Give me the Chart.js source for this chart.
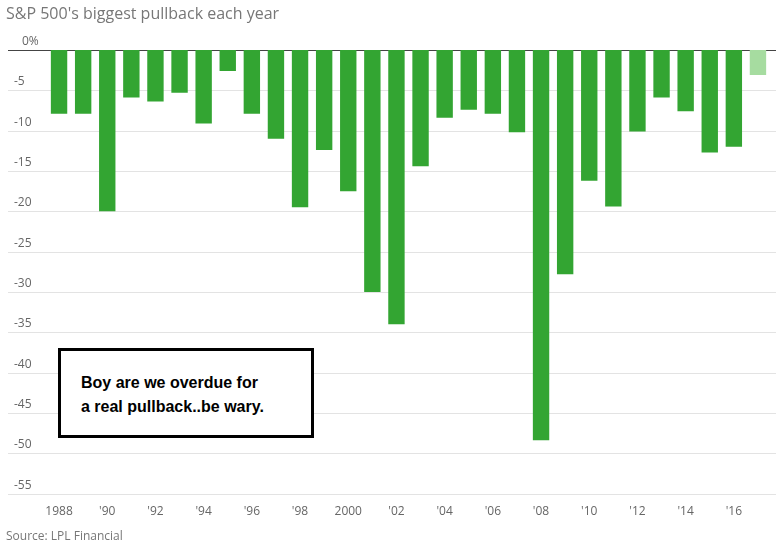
<!DOCTYPE html>
<html>
<head>
<meta charset="utf-8">
<script src="https://cdn.jsdelivr.net/npm/chart.js@4.4.1/dist/chart.umd.min.js"></script>
<style>
  body { margin: 0; background: #fff; font-family: "Open Sans", Arial, sans-serif; }
  #wrap { position: relative; width: 781px; height: 548px; }
  #title { position: absolute; left: 6px; top: 2px; font-size: 16px; color: #777; }
  #source { position: absolute; left: 6px; top: 527px; font-size: 12px; color: #777; }
  #note { position: absolute; left: 58px; top: 348px; width: 250px; height: 84px; border: 3px solid #000; background: #fff;
    font-family: "Liberation Sans", Arial, sans-serif; font-weight: bold; font-size: 16px; line-height: 24px;
    box-sizing: content-box; padding: 0; }
  #note div { position: absolute; left: 20px; top: 20px; }
</style>
</head>
<body>
<div id="wrap">
  <canvas id="myChart" width="781" height="548"></canvas>
  <div id="title">S&amp;P 500's biggest pullback each year</div>
  <div id="source">Source: LPL Financial</div>
  <div id="note"><div>Boy are we overdue for<br>a real pullback..be wary.</div></div>
</div>
<script>
const years = [1988, 1989, 1990, 1991, 1992, 1993, 1994, 1995, 1996, 1997, 1998, 1999, 2000, 2001, 2002,
  2003, 2004, 2005, 2006, 2007, 2008, 2009, 2010, 2011, 2012, 2013, 2014, 2015, 2016, 2017];
const pullback = [-7.9, -7.9, -20, -5.9, -6.4, -5.3, -9.1, -2.6, -7.9, -11, -19.5, -12.4, -17.5, -30, -34,
  -14.4, -8.4, -7.4, -7.9, -10.2, -48.4, -27.8, -16.2, -19.4, -10.1, -5.9, -7.6, -12.7, -12, -3.1];
const yTicks = [0, -5, -10, -15, -20, -25, -30, -35, -40, -45, -50, -55];

function yearLabel(y) {
  if (y % 2 !== 0) return '';
  if (y === 1988 || y === 2000) return String(y);
  return "'" + String(y).slice(2);
}

const ctx = document.getElementById('myChart');

// gridlines and y labels reach out to the left edge, past the bars
const yGrid = {
  id: 'yGrid',
  beforeDatasetsDraw(chart) {
    const c = chart.ctx;
    const y = chart.scales.y;
    c.save();
    c.font = '12px "Open Sans", Arial, sans-serif';
    c.textBaseline = 'bottom';
    c.textAlign = 'left';
    yTicks.forEach(function (t) {
      const py = Math.round(y.getPixelForValue(t)) + 0.5;
      c.strokeStyle = t === 0 ? '#444' : '#e3e3e3';
      c.lineWidth = 1;
      c.beginPath();
      c.moveTo(8, py);
      c.lineTo(776, py);
      c.stroke();
      c.fillStyle = '#666';
      c.fillText(t === 0 ? '0%' : String(t), t === 0 ? 22 : 14, py - 3);
    });
    c.restore();
  }
};

const myChart = new Chart(ctx, {
  type: 'bar',
  data: {
    labels: years,
    datasets: [{
      data: pullback,
      backgroundColor: years.map(function (y) { return y === 2017 ? '#a6dca0' : '#33a532'; }),
      barPercentage: 0.68,
      categoryPercentage: 1
    }]
  },
  options: {
    responsive: false,
    animation: false,
    layout: { padding: { left: 47, right: 11, top: 50, bottom: 26 } },
    scales: {
      y: { display: false, min: -55, max: 0 },
      x: {
        grid: { display: false },
        border: { display: false },
        ticks: {
          autoSkip: false,
          maxRotation: 0,
          color: '#666',
          font: { size: 12, family: '"Open Sans", Arial, sans-serif' },
          callback: function (v, i) { return yearLabel(years[i]); }
        }
      }
    },
    plugins: {
      legend: { display: false },
      tooltip: { enabled: false }
    }
  },
  plugins: [yGrid]
});
</script>
</body>
</html>
